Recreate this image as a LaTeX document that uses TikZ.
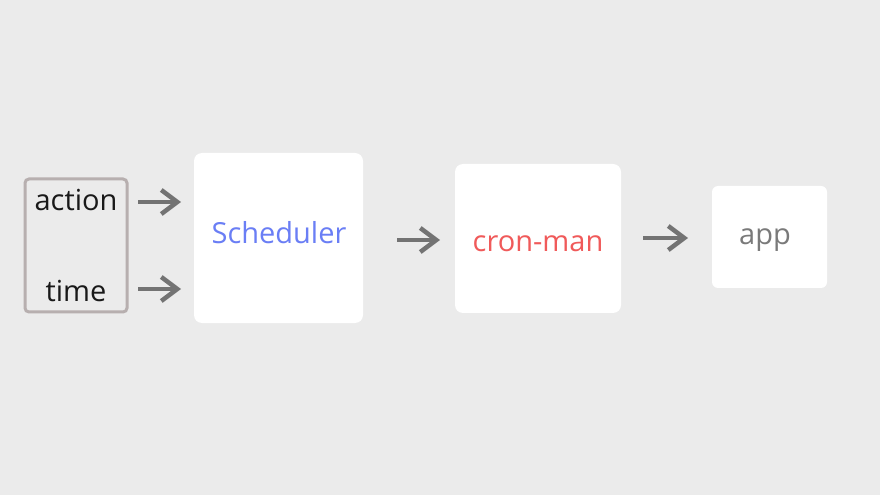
\documentclass[tikz,border=0pt]{standalone}
\usepackage{fontspec}
\setmainfont{Open Sans}
\usetikzlibrary{arrows.meta}
\definecolor{bgc}{HTML}{EBEBEB}
\definecolor{arrc}{HTML}{737373}
\definecolor{inbord}{HTML}{B7AFAF}
\definecolor{schedc}{HTML}{6A7EF5}
\definecolor{cronc}{HTML}{F05A5A}
\definecolor{appc}{HTML}{7A7A7A}
\tikzset{
  lbl/.style={font=\fontsize{29bp}{34bp}\selectfont, inner sep=0pt, anchor=base},
  flow/.style={draw=arrc, line width=4bp, -{Straight Barb[length=16bp,width=24bp,line width=4.5bp]}}
}
\begin{document}
\begin{tikzpicture}[x=1bp,y=-1bp]
\fill[bgc] (0,0) rectangle (880,495);
\useasboundingbox (0,0) rectangle (880,495);
% input box
\draw[draw=inbord, line width=3bp, rounded corners=4bp] (25,179) rectangle (127,312);
\node[lbl, text=black!90] (action) at (76,211) {action};
\node[lbl, text=black!90] (time) at (76,302) {time};
% boxes
\fill[white, rounded corners=8bp] (194,153) rectangle (363,323);
\node[lbl, text=schedc] (sched) at (279,244) {Scheduler};
\fill[white, rounded corners=8bp] (455,164) rectangle (621,313);
\node[lbl, text=cronc] (cron) at (538,252) {cron-man};
\fill[white, rounded corners=6bp] (712,186) rectangle (827,288);
\node[lbl, text=appc] (app) at (765,245) {app};
% arrows
\coordinate (a1s) at (138,202); \coordinate (a1e) at (181,202);
\coordinate (a2s) at (138,289); \coordinate (a2e) at (181,289);
\coordinate (a3s) at (397,240); \coordinate (a3e) at (440,240);
\coordinate (a4s) at (643,238); \coordinate (a4e) at (688,238);
\draw[flow] (a1s) -- (a1e);
\draw[flow] (a2s) -- (a2e);
\draw[flow] (a3s) -- (a3e);
\draw[flow] (a4s) -- (a4e);
\end{tikzpicture}
\end{document}
